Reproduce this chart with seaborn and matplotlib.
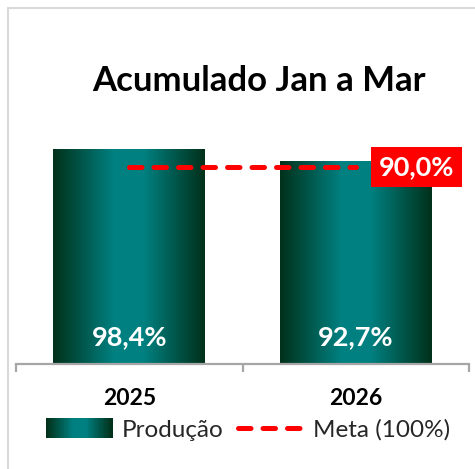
import numpy as np
import matplotlib
matplotlib.use("Agg")
import matplotlib.pyplot as plt
import matplotlib.colors as mcolors
from matplotlib.patches import Rectangle
from matplotlib.lines import Line2D
from matplotlib.legend_handler import HandlerBase
import seaborn as sns

# dados
anos = ["2025", "2026"]
producao = [98.4, 92.7]
rotulos = ["98,4%", "92,7%"]
meta = 90.0
rotulo_meta = "90,0%"

sns.set_theme(style="white")
plt.rcParams["font.family"] = ["Lato", "DejaVu Sans"]

escuro = "#00311a"
teal = "#008080"
cmap = mcolors.LinearSegmentedColormap.from_list(
    "grad", [(0, escuro), (0.4, teal), (0.6, teal), (1, escuro)])
grad = cmap(np.linspace(0, 1, 256))[None, :, :]

fig = plt.figure(figsize=(4.75, 4.69), dpi=100)
W, H = 475, 469
ax = fig.add_axes([16 / W, (H - 364) / H, 453 / W, 218.5 / H])

sns.barplot(x=anos, y=producao, ax=ax, width=0.67, color=teal, saturation=1)
ax.set_xlim(-0.5, 1.5)
ax.set_ylim(0, 100)

# preenchimento em gradiente
for p in ax.patches:
    x0, y0 = p.get_x(), p.get_y()
    w, h = p.get_width(), p.get_height()
    p.set_facecolor("none")
    p.set_edgecolor("none")
    im = ax.imshow(grad, extent=[x0, x0 + w, y0, y0 + h], aspect="auto",
                   zorder=2, interpolation="bilinear")
    im.set_clip_path(p)
ax.set_xlim(-0.5, 1.5)
ax.set_ylim(0, 100)

# rotulos nas barras
for i, t in enumerate(rotulos):
    ax.text(i, 12.4, t, ha="center", va="center", color="white",
            fontsize=19.5, fontweight="bold", zorder=5)

# linha da meta
ax.plot([0, 1], [meta, meta], color="#ff0000", lw=3.6, ls=(0, (2.5, 2.4)),
        dash_capstyle="round", zorder=4)
ax.annotate(rotulo_meta, xy=(1, meta), xytext=(16.5, 0), textcoords="offset points",
            ha="left", va="center", color="white", fontsize=19.5, fontweight="bold",
            bbox=dict(boxstyle="square,pad=0.3", fc="#ff0000", ec="none"),
            annotation_clip=False, zorder=6)

# eixos
for s in ["left", "right", "top"]:
    ax.spines[s].set_visible(False)
ax.spines["bottom"].set_color("#a6a6a6")
ax.spines["bottom"].set_linewidth(1.6)
ax.set_yticks([])
ax.set_xticks([0, 1])
ax.set_xticklabels(anos, fontsize=16.5, fontweight="bold", color="black")
ax.set_xticks([-0.5, 0.5, 1.5], minor=True)
ax.tick_params(axis="x", which="major", length=0, pad=17)
ax.tick_params(axis="x", which="minor", length=6, width=1.6, color="#a6a6a6",
               bottom=True)
ax.set_xlabel("")
ax.set_ylabel("")

# titulo
fig.text(259 / W, 1 - 81 / H, "Acumulado Jan a Mar", ha="center", va="center",
         fontsize=25, fontweight="bold", color="black")


# legenda com gradiente
class HandlerGrad(HandlerBase):
    def create_artists(self, legend, orig_handle, xdescent, ydescent,
                       width, height, fontsize, trans):
        n = 40
        arts = []
        cols = cmap(np.linspace(0, 1, n))
        for k in range(n):
            r = Rectangle((-xdescent + width * k / n, -ydescent - 1),
                          width / n + 0.3, height + 2, fc=cols[k], ec="none",
                          transform=trans)
            arts.append(r)
        return arts


h_prod = Rectangle((0, 0), 1, 1)
h_meta = Line2D([], [], color="#ff0000", lw=3.6, ls=(0, (2.5, 2.4)),
                dash_capstyle="round")
fig.legend([h_prod, h_meta], ["Produção", "Meta (100%)"],
           handler_map={Rectangle: HandlerGrad()},
           loc="center", bbox_to_anchor=(248 / W, 1 - 430 / H), ncol=2,
           frameon=False, fontsize=17.5, handlelength=2.75, handletextpad=0.35,
           columnspacing=0.6)

# moldura
fig.patches.append(Rectangle((8 / W, -0.1), 1.0, 1.1 - 8 / H, fill=False,
                             ec="#d9d9d9", lw=1.5, transform=fig.transFigure))

fig.savefig("out.png", dpi=100)
